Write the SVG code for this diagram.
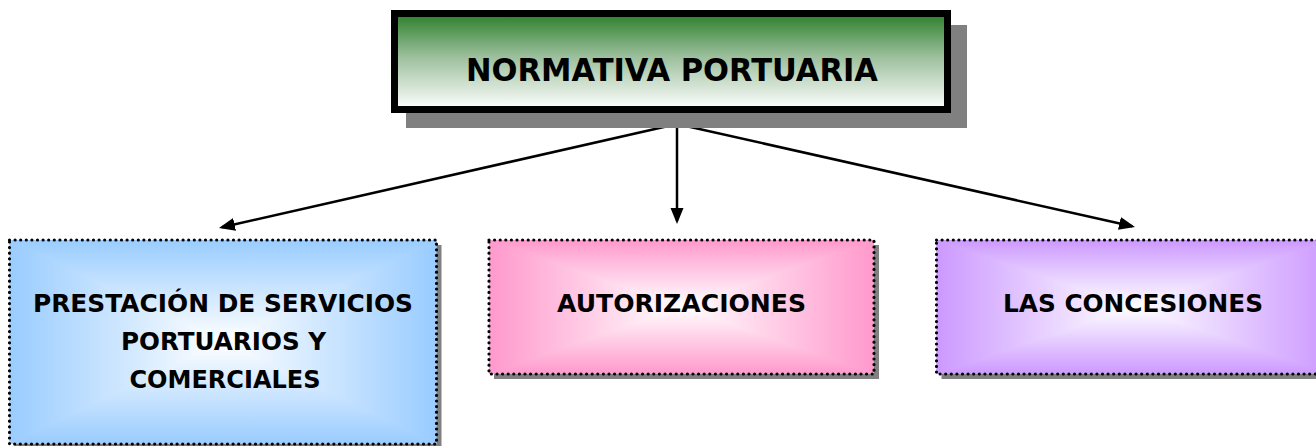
<svg xmlns="http://www.w3.org/2000/svg" width="1316" height="446" viewBox="0 0 1316 446">
<style>
.lbl{font-family:"Comic Sans MS","DejaVu Sans","Liberation Sans",sans-serif;font-weight:bold;fill:#000;text-anchor:middle}
.dot{fill:none;stroke:#000;stroke-width:3.2;stroke-linecap:round;stroke-dasharray:0 5.6}
.shd{fill:#808080}
.conn{stroke:#000;stroke-width:2.5;fill:none}
.blend{mix-blend-mode:darken}
.iso{isolation:isolate}
</style>
<defs>
<marker id="arr" markerUnits="userSpaceOnUse" markerWidth="16" markerHeight="14" refX="13" refY="6.5" orient="auto">
<path d="M0,0 L16,6.5 L0,13 z" fill="#000"/>
</marker>
<linearGradient id="gTop" x1="0" y1="0" x2="0" y2="1">
<stop offset="0" stop-color="#2a7f2a"/>
<stop offset="0.45" stop-color="#9cbf9c"/>
<stop offset="1" stop-color="#ffffff"/>
</linearGradient>
<linearGradient id="bH" x1="0" y1="0" x2="1" y2="0"><stop offset="0" stop-color="#99ccff"/><stop offset="0.5" stop-color="#ffffff"/><stop offset="1" stop-color="#99ccff"/></linearGradient>
<linearGradient id="bV" x1="0" y1="0" x2="0" y2="1"><stop offset="0" stop-color="#99ccff"/><stop offset="0.5" stop-color="#ffffff"/><stop offset="1" stop-color="#99ccff"/></linearGradient>
<linearGradient id="pH" x1="0" y1="0" x2="1" y2="0"><stop offset="0" stop-color="#ff99cc"/><stop offset="0.5" stop-color="#ffffff"/><stop offset="1" stop-color="#ff99cc"/></linearGradient>
<linearGradient id="pV" x1="0" y1="0" x2="0" y2="1"><stop offset="0" stop-color="#ff99cc"/><stop offset="0.5" stop-color="#ffffff"/><stop offset="1" stop-color="#ff99cc"/></linearGradient>
<linearGradient id="vH" x1="0" y1="0" x2="1" y2="0"><stop offset="0" stop-color="#cc99ff"/><stop offset="0.5" stop-color="#ffffff"/><stop offset="1" stop-color="#cc99ff"/></linearGradient>
<linearGradient id="vV" x1="0" y1="0" x2="0" y2="1"><stop offset="0" stop-color="#cc99ff"/><stop offset="0.5" stop-color="#ffffff"/><stop offset="1" stop-color="#cc99ff"/></linearGradient>
</defs>
<rect width="1316" height="446" fill="#ffffff"/>
<g id="connectors">
<path class="conn" d="M677,124 L221.9,227.3" marker-end="url(#arr)"/>
<path class="conn" d="M677,124 L677,221" marker-end="url(#arr)"/>
<path class="conn" d="M677,124 L1132.1,226.3" marker-end="url(#arr)"/>
</g>
<g id="normativa">
<rect class="shd" x="406" y="25" width="561" height="103"/>
<rect x="394.5" y="13.5" width="553" height="96" fill="url(#gTop)" stroke="#000" stroke-width="7"/>
<text class="lbl" x="672" y="81" font-size="32" textLength="412" lengthAdjust="spacingAndGlyphs">NORMATIVA PORTUARIA</text>
</g>
<g id="prestacion">
<rect class="shd" x="14.5" y="245" width="427" height="204"/>
<g class="iso">
<rect x="9.5" y="240" width="427" height="204" fill="url(#bH)"/>
<rect class="blend" x="9.5" y="240" width="427" height="204" fill="url(#bV)"/>
</g>
<rect class="dot" x="9.5" y="240" width="427" height="204"/>
<text class="lbl" x="223" y="312" font-size="25" textLength="380" lengthAdjust="spacingAndGlyphs">PRESTACIÓN DE SERVICIOS</text>
<text class="lbl" x="223.5" y="350" font-size="25" textLength="205" lengthAdjust="spacingAndGlyphs">PORTUARIOS Y</text>
<text class="lbl" x="225" y="388" font-size="25" textLength="191" lengthAdjust="spacingAndGlyphs">COMERCIALES</text>
</g>
<g id="autorizaciones">
<rect class="shd" x="494" y="245" width="385" height="134"/>
<g class="iso">
<rect x="489" y="240" width="385" height="134" fill="url(#pH)"/>
<rect class="blend" x="489" y="240" width="385" height="134" fill="url(#pV)"/>
</g>
<rect class="dot" x="489" y="240" width="385" height="134"/>
<text class="lbl" x="681.5" y="312" font-size="25" textLength="249" lengthAdjust="spacingAndGlyphs">AUTORIZACIONES</text>
</g>
<g id="concesiones">
<rect class="shd" x="941.5" y="245" width="394" height="134"/>
<g class="iso">
<rect x="936.5" y="240" width="394" height="134" fill="url(#vH)"/>
<rect class="blend" x="936.5" y="240" width="394" height="134" fill="url(#vV)"/>
</g>
<rect class="dot" x="936.5" y="240" width="394" height="134"/>
<text class="lbl" x="1133" y="312" font-size="25" textLength="260" lengthAdjust="spacingAndGlyphs">LAS CONCESIONES</text>
</g>
</svg>
